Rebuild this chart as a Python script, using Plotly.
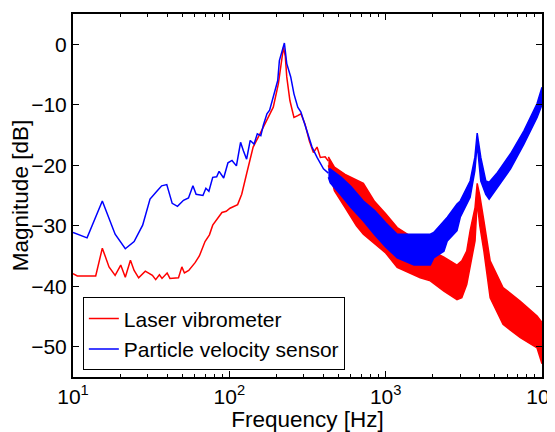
import plotly.graph_objects as go

# ---------------- data ----------------
# Laser vibrometer: smooth low-frequency part (Hz, dB)
laser_f = [10, 10.65, 13.97, 15.4, 17.0, 18.6, 20.2, 21.6, 23.3, 24.6, 26.3, 29.0, 32.2, 33.8,
           35.7, 37.1, 40.0, 41.7, 47.3, 49.7, 51.6, 55.0, 60.4, 64.3, 69.9, 74.6, 78.3, 84.5,
           89.7, 95.5, 101, 113, 120, 129, 142, 157, 174, 191, 206, 215, 222, 228, 233, 244,
           259, 274, 287, 305, 325, 345, 364, 382, 410, 430]
laser_db = [-37.9, -38.3, -38.3, -33.7, -36.8, -38.2, -36.5, -38.5, -35.7, -37.4, -38.6, -37.5, -38.2, -38.9,
            -38.1, -38.7, -37.8, -38.7, -38.6, -36.8, -37.8, -37.4, -36.1, -35.0, -32.6, -31.5, -29.9, -28.6,
            -27.8, -27.6, -27.1, -26.5, -24.8, -21.4, -17.0, -14.8, -12.6, -10.4, -6.5, -2.5, -0.5, -2.0, -5.4, -9.3,
            -12.1, -11.8, -11.5, -13.2, -16.0, -17.9, -17.0, -18.7, -18.6, -19.3]
# Laser vibrometer: noisy high-frequency part, upper / lower envelope (Hz, dB)
laser_band_f = [430, 470, 550, 650, 720, 850, 1000, 1185, 1400, 1664, 1930, 2358, 2860, 3070,
                3300, 3470, 3730, 3850, 4000, 4250, 4660, 5630, 7270, 9300, 10000]
laser_band_hi = [-18.6, -20.3, -21.5, -22.5, -23.0, -26.0, -28.0, -30.3, -31.5, -32.5, -34.0, -35.2, -36.5, -35.8,
                 -34.2, -30.8, -27.0, -23.0, -25.0, -29.2, -35.8, -40.2, -42.5, -44.9, -46.0]
laser_band_lo = [-20.0, -24.2, -27.0, -30.0, -31.4, -33.0, -34.5, -36.9, -37.8, -38.6, -39.1, -40.8, -42.2, -41.9,
                 -39.7, -36.9, -32.5, -26.0, -30.0, -34.2, -41.9, -46.3, -48.5, -50.2, -52.8]

# Particle velocity sensor: smooth low-frequency part (Hz, dB)
pvs_f = [10, 12.3, 15.4, 18.6, 21.6, 24.6, 27.9, 31.1, 34.6, 36.9, 39.8, 43.1, 46.6, 50.9, 54.8,
         58.5, 61.3, 67.8, 70.8, 74, 78.3, 83, 86, 92, 98, 104, 111, 118, 123, 129, 136, 144,
         151, 159, 165, 174, 181, 188, 197, 204, 209, 216, 225, 233, 247, 259, 274, 287, 298,
         313, 338, 364, 400, 430]
pvs_db = [-31.1, -32.0, -25.9, -31.4, -33.8, -32.6, -29.9, -25.6, -24.2, -23.4, -23.2, -26.3, -26.8, -25.8, -25.4,
          -23.4, -24.8, -25.0, -23.8, -24.3, -22.0, -21.9, -21.0, -22.1, -19.6, -19.2, -20.1, -16.2, -17.6, -19.0, -15.9, -16.5,
          -14.8, -15.1, -13.4, -11.5, -10.9, -9.3, -7.3, -6.0, -2.7, -1.3, 0.2, -3.2, -5.4, -8.2, -10.4, -11.2, -12.6,
          -14.3, -17.0, -18.7, -20.6, -21.3]
# Particle velocity sensor: noisy high-frequency part, upper / lower envelope (Hz, dB)
pvs_band_f = [430, 442, 520, 600, 720, 850, 1000, 1185, 1517, 1930, 2030, 2358, 2480, 2860, 3000,
              3470, 3720, 3850, 4060, 4370, 4590, 5190, 6290, 7660, 9300, 10000]
pvs_band_hi = [-20.6, -20.6, -22.0, -23.5, -25.9, -27.5, -29.5, -31.4, -31.4, -31.4, -31.1, -29.2, -28.6, -26.4, -25.9,
               -22.6, -18.7, -14.7, -18.7, -22.6, -22.8, -21.2, -18.1, -14.3, -9.8, -7.1]
pvs_band_lo = [-22.0, -22.9, -25.0, -27.0, -29.2, -31.5, -33.5, -35.3, -36.5, -36.5, -35.3, -34.2, -32.5, -30.8, -28.6,
               -25.3, -20.9, -16.5, -22.6, -24.8, -25.6, -23.7, -20.6, -16.5, -12.1, -10.0]

x_tick_vals = [10, 100, 1000, 10000]
x_tick_text = ["10<sup>1</sup>", "10<sup>2</sup>", "10<sup>3</sup>", "10<sup>4</sup>"]
y_tick_vals = [0, -10, -20, -30, -40, -50]

RED = "#ff0000"
BLUE = "#0000ff"

fig = go.Figure()


def add_series(name, f, db, bf, hi, lo, color, group):
    fig.add_trace(go.Scatter(x=f, y=db, mode="lines", name=name, legendgroup=group,
                             line=dict(color=color, width=1.5)))
    fig.add_trace(go.Scatter(x=bf, y=hi, mode="lines", showlegend=False, legendgroup=group,
                             line=dict(color=color, width=1.5), hoverinfo="skip"))
    fig.add_trace(go.Scatter(x=bf, y=lo, mode="lines", showlegend=False, legendgroup=group,
                             line=dict(color=color, width=1.5), fill="tonexty",
                             fillcolor=color, hoverinfo="skip"))


add_series("Laser vibrometer", laser_f, laser_db, laser_band_f, laser_band_hi, laser_band_lo, RED, "laser")
add_series("Particle velocity sensor", pvs_f, pvs_db, pvs_band_f, pvs_band_hi, pvs_band_lo, BLUE, "pvs")

minor_x = [m * 10 ** e for e in range(1, 4) for m in range(2, 10)]

FAM = "Liberation Sans, Arial, sans-serif"
tick_font = dict(family=FAM, size=21, color="black")
title_font = dict(family=FAM, size=22.5, color="black")
legend_font = dict(family=FAM, size=21, color="black")

# the page body adds an 8px offset, so the figure is 8px smaller than the window
fig.update_layout(
    width=547, height=424,
    margin=dict(l=65, r=13, t=6, b=55, autoexpand=False),
    paper_bgcolor="white", plot_bgcolor="white",
    font=tick_font,
    showlegend=True,
    legend=dict(x=0.021, y=0.018, xanchor="left", yanchor="bottom",
                bordercolor="black", borderwidth=1, bgcolor="white",
                font=legend_font, traceorder="grouped", tracegroupgap=0),
    xaxis=dict(type="log", range=[1, 4], tickvals=x_tick_vals, ticktext=x_tick_text,
               ticks="inside", ticklen=6, tickwidth=1, tickcolor="black",
               tickfont=tick_font, automargin=False, ticklabeloverflow="allow",
               showline=True, linecolor="black", linewidth=2, mirror="allticks",
               showgrid=False, zeroline=False,
               minor=dict(tickmode="array", tickvals=minor_x, ticks="inside", ticklen=3,
                          tickcolor="black", showgrid=False),
               title=dict(text="Frequency [Hz]", font=title_font, standoff=3)),
    yaxis=dict(range=[-55, 5], tickvals=y_tick_vals,
               ticks="inside", ticklen=6, tickwidth=1, tickcolor="black",
               tickfont=tick_font, automargin=False,
               showline=True, linecolor="black", linewidth=2, mirror="allticks",
               showgrid=False, zeroline=False,
               title=dict(text="Magnitude [dB]", font=title_font, standoff=0)),
)

fig.write_html("out.html")
